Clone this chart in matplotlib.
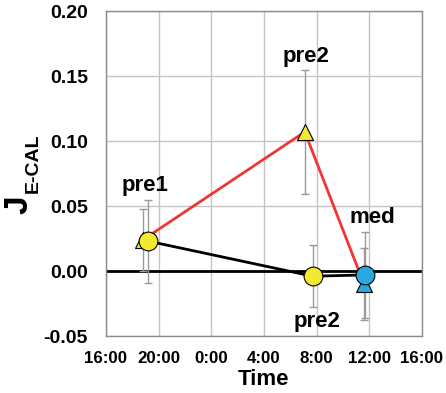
import matplotlib
matplotlib.use("Agg")
import matplotlib.pyplot as plt

plt.rcParams['font.family'] = ['Liberation Sans', 'DejaVu Sans']
plt.rcParams['font.weight'] = 'bold'

# hours counted from midnight of day 1 (16:00 = 16, next day 8:00 = 32)
tri_time = [18.8, 31.1, 35.6]
tri_val = [0.024, 0.107, -0.010]
tri_err = [0.024, 0.048, 0.028]
tri_color = ['#f2ea2e', '#f2ea2e', '#29a9e1']

circ_time = [19.2, 31.7, 35.7]
circ_val = [0.023, -0.004, -0.003]
circ_err = [0.032, 0.024, 0.033]
circ_color = ['#f2ea2e', '#f2ea2e', '#29a9e1']

x_ticks = [16, 20, 24, 28, 32, 36, 40]
x_ticklabels = ['16:00', '20:00', '0:00', '4:00', '8:00', '12:00', '16:00']
y_ticks = [-0.05, 0.0, 0.05, 0.10, 0.15, 0.20]

fig = plt.figure(figsize=(4.46, 3.93), dpi=100)
ax = fig.add_axes([0.2377, 0.145, 0.7083, 0.827])

ax.axhline(0, color='black', lw=2, zorder=2)

ax.errorbar(tri_time, tri_val, yerr=tri_err, fmt='none', ecolor='#9a9a9a',
            elinewidth=1, capsize=3, zorder=3)
ax.errorbar(circ_time, circ_val, yerr=circ_err, fmt='none', ecolor='#9a9a9a',
            elinewidth=1, capsize=3, zorder=3)

ax.plot(tri_time, tri_val, color='#f03535', lw=2, zorder=4)
ax.plot(circ_time, circ_val, color='black', lw=2, zorder=5)

for t, v, c in zip(tri_time, tri_val, tri_color):
    ax.plot(t, v, marker='^', ms=12, mfc=c, mec='black', mew=0.8, zorder=6)
for t, v, c in zip(circ_time, circ_val, circ_color):
    ax.plot(t, v, marker='o', ms=13.5, mfc=c, mec='black', mew=0.8, zorder=7)

lab = dict(fontsize=16, fontweight='bold', ha='center', va='center')
ax.text(19.0, 0.066, 'pre1', **lab)
ax.text(31.2, 0.165, 'pre2', **lab)
ax.text(36.2, 0.0415, 'med', **lab)
ax.text(32.0, -0.039, 'pre2', **lab)

ax.set_xlim(16, 40)
ax.set_ylim(-0.05, 0.20)
ax.set_xticks(x_ticks)
ax.set_xticklabels(x_ticklabels)
ax.set_yticks(y_ticks)
ax.set_yticklabels([f'{v:.2f}' for v in y_ticks])
ax.tick_params(axis='x', length=0, labelsize=12.2, pad=11)
ax.tick_params(axis='y', length=0, labelsize=14, pad=13)
ax.grid(True, color='#c4c4c4', lw=1)
ax.set_axisbelow(True)
for s in ax.spines.values():
    s.set_color('#8c8c8c')
    s.set_linewidth(1)

ax.set_xlabel('Time', fontsize=16, fontweight='bold', labelpad=2)

# y label: big J with subscript E-CAL
fig.text(19 / 446, 1 - 205 / 393, 'J', rotation=90, fontsize=24,
         fontweight='bold', ha='center', va='center')
fig.text(33 / 446, 1 - 163 / 393, 'E-CAL', rotation=90, fontsize=14,
         fontweight='bold', ha='center', va='center')

fig.savefig('out.png', dpi=100)
